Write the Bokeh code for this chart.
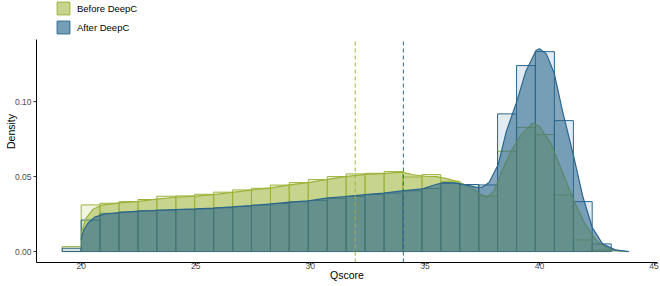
from bokeh.plotting import figure
from bokeh.models import Range1d, FixedTicker, PrintfTickFormatter, Legend, LegendItem
from bokeh.embed import file_html
from bokeh.resources import INLINE

# ---- data ----
bin_edges = [19.17, 20.00, 20.82, 21.65, 22.48, 23.30, 24.13, 24.95, 25.78, 26.61,
             27.43, 28.26, 29.08, 29.91, 30.74, 31.56, 32.39, 33.22, 34.04, 34.87,
             35.69, 36.52, 37.35, 38.17, 39.00, 39.82, 40.65, 41.48, 42.30, 43.13]
before_hist = [0.0033, 0.0311, 0.0322, 0.0333, 0.0347, 0.0369, 0.0371, 0.0382, 0.0396, 0.0411,
               0.0422, 0.0443, 0.0460, 0.0480, 0.0500, 0.0518, 0.0522, 0.0533, 0.0497, 0.0513,
               0.0469, 0.0447, 0.0370, 0.0669, 0.0828, 0.0780, 0.0378, 0.0078, 0.0010]
after_hist = [0.0022, 0.0210, 0.0255, 0.0265, 0.0272, 0.0276, 0.0280, 0.0285, 0.0292, 0.0300,
              0.0310, 0.0320, 0.0332, 0.0340, 0.0355, 0.0367, 0.0380, 0.0390, 0.0405, 0.0420,
              0.0455, 0.0447, 0.0444, 0.0918, 0.1240, 0.1333, 0.0873, 0.0333, 0.0051]

before_dens_x = [20.0, 20.2, 20.5, 20.9, 21.7, 22.5, 23.3, 24.1, 25.0, 25.8, 26.6, 27.4,
                 28.3, 29.1, 29.9, 30.7, 31.5, 32.4, 33.2, 34.0, 34.5, 35.0, 35.5, 36.0,
                 36.5, 37.0, 37.4, 37.7, 38.0, 38.4, 38.8, 39.2, 39.7, 40.0, 40.5, 41.0,
                 41.5, 42.0, 42.5, 43.0, 43.5, 43.8]
before_dens_y = [0.012, 0.022, 0.028, 0.031, 0.0325, 0.0335, 0.035, 0.0362, 0.037, 0.038, 0.0395, 0.041,
                 0.0425, 0.0445, 0.046, 0.048, 0.050, 0.0515, 0.052, 0.0530, 0.0512, 0.0502, 0.0500, 0.0485,
                 0.0462, 0.0425, 0.0385, 0.0362, 0.0400, 0.0550, 0.0680, 0.0780, 0.0856, 0.0835, 0.0720, 0.0530,
                 0.0340, 0.0180, 0.0070, 0.0020, 0.0005, 0.0]
after_dens_x = [20.0, 20.1, 20.3, 20.6, 21.0, 21.7, 22.5, 23.3, 24.1, 25.0, 25.8, 26.6,
                27.4, 28.3, 29.1, 29.9, 30.7, 31.5, 32.4, 33.2, 34.0, 34.9, 35.4, 35.8,
                36.3, 36.8, 37.2, 37.5, 37.8, 38.2, 38.55, 39.0, 39.4, 39.85, 40.0, 40.3,
                40.65, 41.0, 41.5, 41.9, 42.3, 42.75, 43.3, 43.9]
after_dens_y = [0.008, 0.014, 0.019, 0.023, 0.025, 0.026, 0.027, 0.0275, 0.028, 0.0284, 0.029, 0.0298,
                0.0307, 0.0318, 0.033, 0.0338, 0.0356, 0.0367, 0.038, 0.039, 0.0405, 0.0418, 0.0444, 0.0460,
                0.0458, 0.0445, 0.0430, 0.0428, 0.0460, 0.0580, 0.0800, 0.0996, 0.1200, 0.1340, 0.1352, 0.1318,
                0.1185, 0.0940, 0.0629, 0.0362, 0.0162, 0.0051, 0.0011, 0.0]

mean_before = 31.96
mean_after = 34.06
x_ticks = [20, 25, 30, 35, 40, 45]
y_ticks = [0.0, 0.05, 0.10]
labels = ["Before DeepC", "After DeepC"]

C1 = "#9cb33a"
C2 = "#2a668e"
FONT = "Liberation Sans"

# panel limits (data units) and extra room above the panel for the legend
x_lo, x_hi = 18.05, 45.15
y_lo, y_hi = -0.0073, 0.1414
y_top = y_hi + 39 / 1500.0

p = figure(width=660, height=286, output_backend="svg", toolbar_location=None,
           x_range=Range1d(x_lo, x_hi), y_range=Range1d(y_lo, y_top),
           min_border_left=36, min_border_right=3, min_border_top=0, min_border_bottom=24,
           x_axis_label="Qscore", y_axis_label="Density")
p.outline_line_color = None
p.xgrid.visible = False
p.ygrid.visible = False

left = bin_edges[:-1]
right = bin_edges[1:]
hb = p.quad(left=left, right=right, bottom=0, top=before_hist, fill_color=C1, fill_alpha=0.15,
            line_color=C1, line_width=1)
ha = p.quad(left=left, right=right, bottom=0, top=after_hist, fill_color=C2, fill_alpha=0.13,
            line_color=C2, line_width=1)

db = p.varea(x=before_dens_x, y1=0, y2=before_dens_y, fill_color=C1, fill_alpha=0.5)
p.line(before_dens_x, before_dens_y, line_color=C1, line_width=1.2)
da = p.varea(x=after_dens_x, y1=0, y2=after_dens_y, fill_color=C2, fill_alpha=0.58)
p.line(after_dens_x, after_dens_y, line_color=C2, line_width=1.2)

p.segment(x0=[mean_before, mean_after], x1=[mean_before, mean_after], y0=y_lo, y1=y_hi,
          line_color=[C1, C2], line_dash="4 3", line_width=1)

for ax in (p.xaxis[0], p.yaxis[0]):
    ax.axis_line_color = "black"
    ax.axis_line_width = 1
    ax.major_tick_in = 0
    ax.major_tick_out = 3
    ax.major_tick_line_color = "#333333"
    ax.minor_tick_in = 0
    ax.minor_tick_out = 0
    ax.major_label_text_font = FONT
    ax.major_label_text_font_size = "8.5px"
    ax.major_label_text_color = "#4d4d4d"
    ax.axis_label_text_font = FONT
    ax.axis_label_text_font_size = "10.5px"
    ax.axis_label_text_font_style = "normal"
    ax.axis_label_text_color = "black"
p.xaxis.major_label_standoff = -3
p.xaxis.axis_label_standoff = -3
p.yaxis.major_label_standoff = 2
p.yaxis.axis_label_standoff = -5
p.yaxis.bounds = (y_lo, y_hi)

p.xaxis.ticker = FixedTicker(ticks=x_ticks, minor_ticks=[])
p.yaxis.ticker = FixedTicker(ticks=y_ticks, minor_ticks=[])
p.yaxis.formatter = PrintfTickFormatter(format="%.2f")

legend = Legend(items=[LegendItem(label=labels[0], renderers=[hb, db]),
                       LegendItem(label=labels[1], renderers=[ha, da])],
                location=(19, 227), orientation="vertical", glyph_width=16, glyph_height=16,
                label_text_font=FONT, label_text_font_size="9.5px", label_text_color="black",
                label_standoff=6, label_height=16,
                spacing=3, padding=0, margin=0, border_line_alpha=0, background_fill_alpha=0)
p.add_layout(legend, "center")

open("out.html", "w").write(file_html(p, INLINE))
